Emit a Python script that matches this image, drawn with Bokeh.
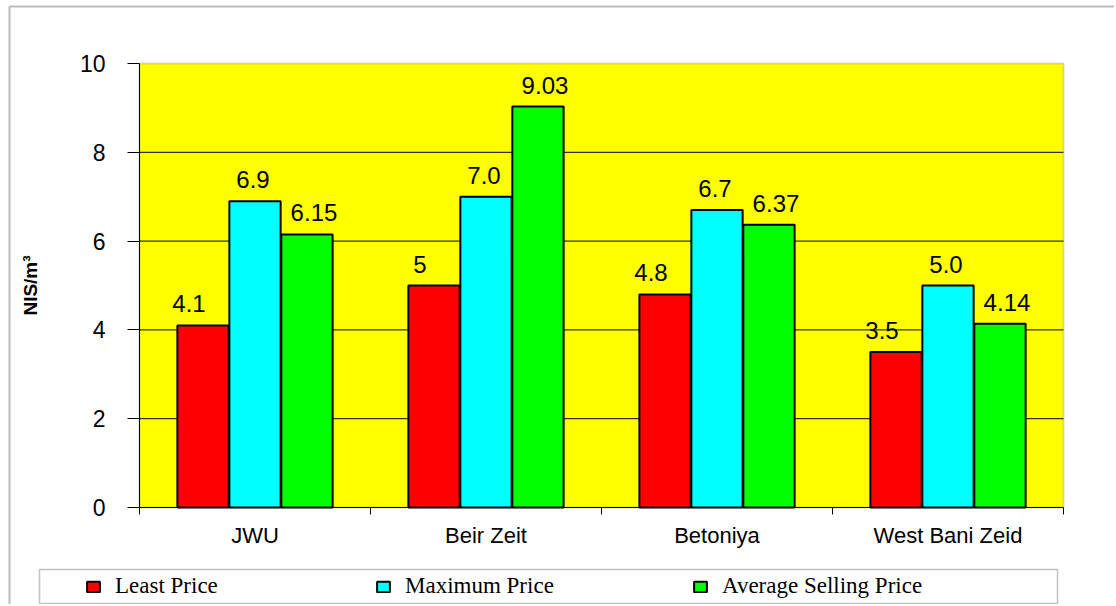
import numpy as np
from bokeh.plotting import figure
from bokeh.models import ColumnDataSource, Range1d, FixedTicker, Legend, LegendItem, BoxAnnotation
from bokeh.transform import dodge
from bokeh.core.properties import value
from bokeh.embed import file_html
from bokeh.resources import INLINE

# ---- data ----
cats = ["JWU", "Beir Zeit", "Betoniya", "West Bani Zeid"]
least = [4.1, 5.0, 4.8, 3.5]
maximum = [6.9, 7.0, 6.7, 5.0]
average = [6.15, 9.03, 6.37, 4.14]
least_labels = ["4.1", "5", "4.8", "3.5"]
max_labels = ["6.9", "7.0", "6.7", "5.0"]
avg_labels = ["6.15", "9.03", "6.37", "4.14"]
series_names = ["Least Price", "Maximum Price", "Average Selling Price"]
y_ticks = [0, 2, 4, 6, 8, 10]
grid_vals = [2, 4, 6, 8]
y_max = 10

# ---- layout (pixels of the page) ----
W, H = 1114, 604
PX_L, PX_R, PX_T, PX_B = 139, 1063, 63, 507      # plot area edges
n = len(cats)
ux = (PX_R - PX_L) / n
uy = (PX_B - PX_T) / y_max
x0, x1 = -PX_L / ux, n + (W - PX_R) / ux
y0, y1 = -(H - PX_B) / uy, y_max + PX_T / uy
def dx(px): return x0 + px / ux
def dy(py): return y1 - py / uy

colors = ["#FF0000", "#00FFFF", "#00FF00"]
offsets = [-0.225, 0.0, 0.225]
label_xoff = [-14, -2, 7]
legend_glyph_px = [85, 375, 692]

centers = np.arange(n) + 0.5
src = ColumnDataSource(dict(x=centers, least=least, maximum=maximum, average=average,
                            l_lab=least_labels, m_lab=max_labels, a_lab=avg_labels))

FONT = "Liberation Sans"

p = figure(width=W, height=H, x_range=Range1d(x0, x1), y_range=Range1d(y0, y1),
           output_backend="svg", toolbar_location=None,
           min_border_left=0, min_border_right=0, min_border_top=0, min_border_bottom=0)
p.background_fill_color = "white"
p.border_fill_color = "white"
p.outline_line_color = None
p.xgrid.visible = False
p.ygrid.visible = False

# plot area (yellow) with grey border
p.add_layout(BoxAnnotation(left=0, right=n, bottom=0, top=y_max, fill_color="#FFFF00", fill_alpha=1,
                           line_color="#808080", line_width=2, level="underlay"))
# outer chart border (left / top visible)
p.add_layout(BoxAnnotation(left=dx(9), right=dx(W + 30), top=dy(6), bottom=dy(H + 30),
                           fill_alpha=0, line_color="#222222", line_width=2, level="overlay"))
# legend box
p.add_layout(BoxAnnotation(left=dx(39), right=dx(1057), top=dy(569), bottom=dy(603),
                           fill_color="white", fill_alpha=1, line_color="#333333", line_width=1.5,
                           level="underlay"))

# horizontal grid lines
p.segment(x0=[0] * len(grid_vals), x1=[n] * len(grid_vals), y0=grid_vals, y1=grid_vals,
          line_color="black", line_width=1)

keys = ["least", "maximum", "average"]
labs = ["l_lab", "m_lab", "a_lab"]
renderers = []
for i in range(3):
    r = p.vbar(x=dodge("x", offsets[i], range=p.x_range), top=keys[i], width=0.222, source=src,
               fill_color=colors[i], line_color="black", line_width=2)
    renderers.append(r)
    p.text(x=dodge("x", offsets[i], range=p.x_range), y=keys[i], text=labs[i], source=src,
           text_align="center", text_baseline="bottom", y_offset=-13, x_offset=label_xoff[i],
           text_font=value(FONT), text_font_size="24px", text_color="black")

# y axis (fixed at x = 0)
ya = p.yaxis[0]
ya.fixed_location = 0
ya.bounds = (0, y_max)
ya.ticker = FixedTicker(ticks=y_ticks)
ya.axis_line_color = "black"
ya.major_tick_out = 12
ya.major_tick_in = 0
ya.minor_tick_line_color = None
ya.major_label_standoff = 22
ya.major_label_text_font = FONT
ya.major_label_text_font_size = "23px"
ya.major_label_text_color = "black"
ya.axis_label = "NIS/m³"
ya.axis_label_text_font = FONT
ya.axis_label_text_font_style = "bold"
ya.axis_label_text_font_size = "19px"
ya.axis_label_text_color = "black"
ya.axis_label_standoff = 36

# x axis (fixed at y = 0): labels at centres, ticks at category boundaries
xa = p.xaxis[0]
xa.fixed_location = 0
xa.bounds = (0, n)
xa.ticker = FixedTicker(ticks=list(centers), minor_ticks=list(np.arange(n + 1)))
xa.major_label_overrides = {float(c): s for c, s in zip(centers, cats)}
xa.major_tick_line_color = None
xa.major_tick_out = 0
xa.minor_tick_line_color = "black"
xa.minor_tick_out = 7
xa.minor_tick_in = 0
xa.axis_line_color = "black"
xa.major_label_standoff = 8
xa.major_label_text_font = FONT
xa.major_label_text_font_size = "22px"
xa.major_label_text_color = "black"

# legend: one entry per series, placed along the legend box
PAD = 2
for i in range(3):
    lg = Legend(items=[LegendItem(label=series_names[i], renderers=[renderers[i]])],
                location=(legend_glyph_px[i] - PAD, H - 601), orientation="horizontal",
                border_line_alpha=0, background_fill_alpha=0, padding=PAD, margin=0,
                label_standoff=14, glyph_width=16, glyph_height=13,
                label_text_font="Liberation Serif", label_text_font_size="23px",
                label_text_color="black", label_height=26)
    p.add_layout(lg)

open("out.html", "w").write(file_html(p, INLINE))
